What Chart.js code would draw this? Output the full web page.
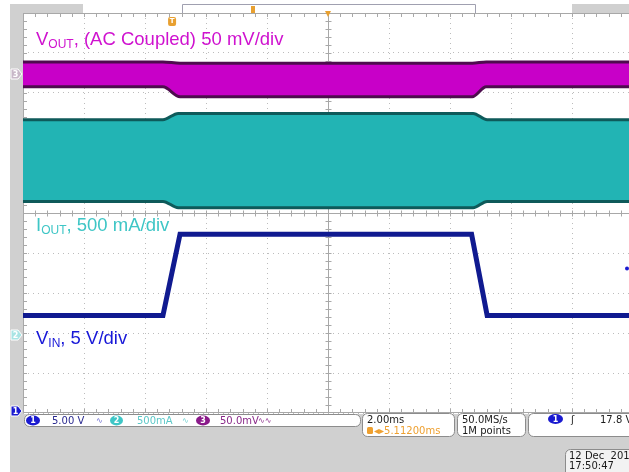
<!DOCTYPE html>
<html>
<head>
<meta charset="utf-8">
<script src="https://cdn.jsdelivr.net/npm/chart.js@4.4.0/dist/chart.umd.min.js"></script>
<style>
html, body { margin: 0; padding: 0; background: #fff; overflow: hidden; }
#wrap { position: relative; width: 645px; height: 472px; }
</style>
</head>
<body>
<div id="wrap"><canvas id="scope" width="645" height="472"></canvas></div>
<script>
// time in ms, relative to trigger (2 ms/div, delay 5.112 ms)
const t_min = -4.888, t_max = 15.112, t_div = 2;

// ch3 Vout (AC coupled, mV): upper and lower envelope of the ripple band
const vout_t  = [-4.888, -0.30, 0.26, 9.84, 10.30, 15.112];
const vout_hi = [15, 15, 13.5, 13.5, 15, 15];
const vout_lo = [-16, -16, -28.5, -28.5, -16, -16];

// ch2 Iout (A): envelope of the switching band
const iout_t  = [-4.888, -0.30, 0.20, 9.87, 10.33, 15.112];
const iout_hi = [2.69, 2.69, 2.77, 2.77, 2.69, 2.69];
const iout_lo = [1.67, 1.67, 1.59, 1.59, 1.67, 1.67];

// ch1 Vin (V)
const vin_t = [-4.888, -0.30, 0.26, 9.82, 10.33, 15.112];
const vin_v = [11.95, 11.95, 22.1, 22.1, 11.95, 11.95];

// channel settings: units per div, ground marker position in div
const ch_scale  = { ch1: 5, ch2: 0.5, ch3: 50 };
const ch_offset = { ch1: -4.95, ch2: -3.05, ch3: 3.475 };
const trig_level = 17.8;

const toDiv = (ch, arrT, arrV) => arrT.map((t, i) => ({ x: t, y: arrV[i] / ch_scale[ch] + ch_offset[ch] }));

function rrect(ctx, x, y, w, h, r) {
    ctx.beginPath();
    ctx.moveTo(x + r, y);
    ctx.arcTo(x + w, y, x + w, y + h, r);
    ctx.arcTo(x + w, y + h, x, y + h, r);
    ctx.arcTo(x, y + h, x, y, r);
    ctx.arcTo(x, y, x + w, y, r);
    ctx.closePath();
}

function subLabel(ctx, x, y, main, sub, rest, color) {
    ctx.fillStyle = color;
    ctx.textBaseline = 'alphabetic';
    ctx.textAlign = 'left';
    ctx.font = '18.5px "Liberation Sans", Arial, sans-serif';
    ctx.fillText(main, x, y);
    x += ctx.measureText(main).width;
    ctx.font = '12px "Liberation Sans", Arial, sans-serif';
    ctx.fillText(sub, x, y + 3);
    x += ctx.measureText(sub).width;
    ctx.font = '18.5px "Liberation Sans", Arial, sans-serif';
    ctx.fillText(rest, x, y);
}

function chanMarker(ctx, y, fill, txtColor, label) {
    ctx.beginPath();
    ctx.moveTo(11, y - 5);
    ctx.lineTo(18, y - 5);
    ctx.lineTo(22, y);
    ctx.lineTo(18, y + 5);
    ctx.lineTo(11, y + 5);
    ctx.closePath();
    ctx.fillStyle = fill;
    ctx.fill();
    ctx.strokeStyle = '#ffffff';
    ctx.lineWidth = 1;
    ctx.stroke();
    ctx.fillStyle = txtColor;
    ctx.font = 'bold 8px "DejaVu Sans"';
    ctx.textAlign = 'center';
    ctx.textBaseline = 'middle';
    ctx.fillText(label, 15.5, y + 0.5);
}

function pill(ctx, x, y, w, fill, txtColor, label) {
    ctx.fillStyle = fill;
    ctx.beginPath();
    ctx.ellipse(x + w / 2, y, w / 2, 5, 0, 0, Math.PI * 2);
    ctx.fill();
    ctx.fillStyle = txtColor;
    ctx.font = 'bold 8px "DejaVu Sans"';
    ctx.textAlign = 'center';
    ctx.textBaseline = 'middle';
    ctx.fillText(label, x + w / 2, y + 0.5);
}

const scopeDecor = {
    id: 'scopeDecor',
    beforeDraw(chart) {
        const { ctx, chartArea: a } = chart;
        const W = chart.width, H = chart.height;
        ctx.save();
        ctx.fillStyle = '#ffffff';
        ctx.fillRect(0, 0, W, H);
        ctx.fillStyle = '#d0d0d0';
        ctx.fillRect(10, 4, a.left - 10, H - 4);
        ctx.fillRect(10, 4, 73, a.top - 4);
        ctx.fillRect(572, 4, W - 572, a.top - 4);
        ctx.fillRect(10, a.bottom + 1, W - 10, H - a.bottom - 1);
        // record view bar
        ctx.strokeStyle = '#a0a0b0';
        ctx.lineWidth = 1;
        ctx.beginPath();
        ctx.moveTo(182.5, a.top);
        ctx.lineTo(182.5, 4.5);
        ctx.lineTo(475.5, 4.5);
        ctx.lineTo(475.5, a.top);
        ctx.stroke();
        ctx.fillStyle = '#e8a030';
        ctx.fillRect(251, 6, 4, 7);
        ctx.restore();
    },
    beforeDatasetsDraw(chart) {
        const { ctx, chartArea: a, scales: { x, y } } = chart;
        const cx = Math.round(x.getPixelForValue(t_min + 5 * t_div)) + 0.5;
        const cy = Math.round(y.getPixelForValue(0)) + 0.5;
        ctx.save();
        ctx.strokeStyle = '#a8a8a8';
        ctx.lineWidth = 1;
        ctx.beginPath();
        ctx.moveTo(a.left + 0.5, a.top); ctx.lineTo(a.left + 0.5, a.bottom);
        ctx.moveTo(a.left, a.top + 0.5); ctx.lineTo(a.right, a.top + 0.5);
        ctx.moveTo(a.left, a.bottom - 0.5); ctx.lineTo(a.right, a.bottom - 0.5);
        ctx.moveTo(cx, a.top); ctx.lineTo(cx, a.bottom);
        ctx.moveTo(a.left, cy); ctx.lineTo(a.right, cy);
        for (let i = 1; i < 50; i++) {
            const px = Math.round(x.getPixelForValue(t_min + i * t_div / 5)) + 0.5;
            ctx.moveTo(px, cy - 3); ctx.lineTo(px, cy + 3);
            ctx.moveTo(px, a.top); ctx.lineTo(px, a.top + 4);
            ctx.moveTo(px, a.bottom); ctx.lineTo(px, a.bottom - 4);
        }
        for (let j = 1; j < 50; j++) {
            const py = Math.round(y.getPixelForValue(-5 + j / 5)) + 0.5;
            ctx.moveTo(cx - 3, py); ctx.lineTo(cx + 3, py);
            ctx.moveTo(a.left, py); ctx.lineTo(a.left + 4, py);
        }
        ctx.stroke();
        ctx.restore();
    },
    afterDatasetsDraw(chart) {
        const { ctx, chartArea: a, scales: { x, y } } = chart;
        ctx.save();
        subLabel(ctx, 36, 45, 'V', 'OUT', ', (AC Coupled) 50 mV/div', '#cf12cf');
        subLabel(ctx, 36, 231, 'I', 'OUT', ', 500 mA/div', '#3ec6c6');
        subLabel(ctx, 36, 344, 'V', 'IN', ', 5 V/div', '#1818d8');

        chanMarker(ctx, y.getPixelForValue(ch_offset.ch3), '#c8b8c8', '#ffffff', '3');
        chanMarker(ctx, y.getPixelForValue(ch_offset.ch2), '#a8e4e4', '#ffffff', '2');
        chanMarker(ctx, y.getPixelForValue(ch_offset.ch1), '#1a1ad0', '#ffffff', '1');

        // trigger position marker
        const tx = x.getPixelForValue(0);
        ctx.fillStyle = '#e8a030';
        rrect(ctx, tx - 4, 17, 8, 9, 2);
        ctx.fill();
        ctx.fillStyle = '#ffffff';
        ctx.font = 'bold 7px "DejaVu Sans"';
        ctx.textAlign = 'center';
        ctx.textBaseline = 'middle';
        ctx.fillText('T', tx, 21.5);
        // expansion point
        const ex = x.getPixelForValue(t_min + 5 * t_div);
        ctx.fillStyle = '#e8a030';
        ctx.beginPath();
        ctx.moveTo(ex - 3, a.top - 2); ctx.lineTo(ex + 3, a.top - 2); ctx.lineTo(ex, a.top + 4);
        ctx.closePath();
        ctx.fill();
        // trigger level dot
        ctx.fillStyle = '#1a1ad0';
        ctx.beginPath();
        ctx.arc(627, y.getPixelForValue(trig_level / ch_scale.ch1 + ch_offset.ch1), 2, 0, Math.PI * 2);
        ctx.fill();
        ctx.restore();
    },
    afterDraw(chart) {
        const { ctx } = chart;
        ctx.save();
        ctx.lineWidth = 1;
        ctx.strokeStyle = '#8c8c8c';
        ctx.fillStyle = '#ffffff';
        const boxes = [[24.5, 414.5, 336, 12, 5], [362.5, 413.5, 92, 23, 5], [457.5, 413.5, 68, 23, 5], [528.5, 413.5, 130, 23, 5]];
        boxes.forEach(b => { rrect(ctx, b[0], b[1], b[2], b[3], b[4]); ctx.fill(); ctx.stroke(); });
        ctx.fillStyle = '#f2f2f2';
        rrect(ctx, 565.5, 449.5, 90, 30, 5); ctx.fill(); ctx.stroke();

        pill(ctx, 26, 420.5, 14, '#1a1ad0', '#ffffff', '1');
        pill(ctx, 110, 420.5, 13, '#3ec6c6', '#ffffff', '2');
        pill(ctx, 196, 420.5, 14, '#8a1a8a', '#ffffff', '3');
        pill(ctx, 548, 419, 15, '#1a1ad0', '#ffffff', '1');

        ctx.textAlign = 'left';
        ctx.textBaseline = 'alphabetic';
        ctx.font = '10px "DejaVu Sans"';
        ctx.fillStyle = '#2a2a90';
        ctx.fillText('5.00 V', 52, 424);
        ctx.fillStyle = '#5cc8c8';
        ctx.fillText('500mA', 137, 424);
        ctx.fillStyle = '#8a2a8a';
        ctx.fillText('50.0mV', 220, 424);
        ctx.font = '8px "DejaVu Sans"';
        ctx.fillStyle = '#6a6ad0'; ctx.fillText('∿', 96, 423);
        ctx.fillStyle = '#70d0d0'; ctx.fillText('∿', 182, 423);
        ctx.fillStyle = '#8a2a8a'; ctx.fillText('∿∿', 258, 423);

        ctx.font = '10px "DejaVu Sans"';
        ctx.fillStyle = '#1a1a1a';
        ctx.fillText('2.00ms', 367, 423);
        ctx.fillText('50.0MS/s', 462, 423);
        ctx.fillText('1M points', 462, 434);
        ctx.fillText('ʃ', 571, 423);
        ctx.fillText('17.8 V', 600, 423);
        ctx.fillText('12 Dec  2016', 569, 459);
        ctx.fillText('17:50:47', 569, 469);
        ctx.fillStyle = '#eea030';
        rrect(ctx, 367, 427, 6, 7, 1.5); ctx.fill();
        ctx.fillText('◂▸5.11200ms', 374, 434);
        ctx.restore();
    }
};

const chart = new Chart(document.getElementById('scope'), {
    type: 'line',
    data: {
        datasets: [
            { data: toDiv('ch3', vout_t, vout_hi), borderColor: '#4e0c4e', borderWidth: 3, fill: false },
            { data: toDiv('ch3', vout_t, vout_lo), borderColor: '#4e0c4e', borderWidth: 3, fill: '-1', backgroundColor: '#c800c8' },
            { data: toDiv('ch2', iout_t, iout_hi), borderColor: '#0e5a5a', borderWidth: 3, fill: false },
            { data: toDiv('ch2', iout_t, iout_lo), borderColor: '#0e5a5a', borderWidth: 3, fill: '-1', backgroundColor: '#22b4b4' },
            { data: toDiv('ch1', vin_t, vin_v), borderColor: '#101a90', borderWidth: 5, fill: false, tension: 0, cubicInterpolationMode: 'default' },
        ]
    },
    options: {
        responsive: false,
        devicePixelRatio: 1,
        animation: false,
        events: [],
        layout: { padding: { left: 23, top: 13, right: 12, bottom: 59 } },
        elements: {
            point: { radius: 0 },
            line: { cubicInterpolationMode: 'monotone' }
        },
        plugins: { legend: { display: false }, tooltip: { enabled: false } },
        scales: {
            x: {
                type: 'linear', min: t_min, max: t_max,
                afterBuildTicks: s => { s.ticks = Array.from({ length: 11 }, (_, k) => ({ value: t_min + k * t_div })); },
                ticks: { display: false },
                grid: { color: '#bcbcbc', drawTicks: false },
                border: { display: false, dash: [1, 4] }
            },
            y: {
                type: 'linear', min: -5, max: 5,
                afterBuildTicks: s => { s.ticks = Array.from({ length: 11 }, (_, k) => ({ value: -5 + k })); },
                ticks: { display: false },
                grid: { color: '#bcbcbc', drawTicks: false },
                border: { display: false, dash: [1, 4] }
            }
        }
    },
    plugins: [scopeDecor]
});
</script>
</body>
</html>
